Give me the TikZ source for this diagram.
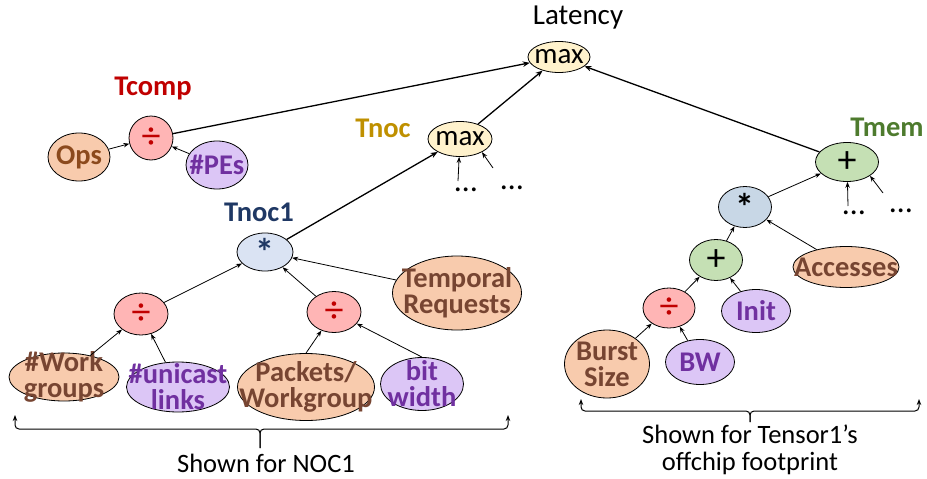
\documentclass[tikz,border=0pt]{standalone}
\usepackage{fontspec}
\setmainfont{Carlito}
\usetikzlibrary{shapes.geometric,arrows.meta}
\definecolor{orgfill}{HTML}{F8CBAD}
\definecolor{orgtxt}{HTML}{774532}
\definecolor{opstxt}{HTML}{8C4A1D}
\definecolor{purfill}{HTML}{DCC6F6}
\definecolor{purtxt}{HTML}{7030A0}
\definecolor{redfill}{HTML}{FFB5B5}
\definecolor{divred}{HTML}{C00000}
\definecolor{yelfill}{HTML}{FFF2CC}
\definecolor{grnfill}{HTML}{C5E0B4}
\definecolor{bluefill}{HTML}{DAE3F3}
\definecolor{startxt}{HTML}{1F3864}
\definecolor{gblue}{HTML}{C8D7E6}
\definecolor{tnocc}{HTML}{BF9000}
\definecolor{tmemc}{HTML}{4E7B2E}
\newcommand\myBF{\fontsize{28.5}{26}\selectfont\bfseries}
\newcommand\myRM{\fontsize{29}{25}\selectfont}
\newcommand\mySM{\fontsize{26.5}{27}\selectfont}
\newcommand\mySYM{\fontsize{38}{38}\selectfont}
\begin{document}
\begin{tikzpicture}[x=1pt,y=-1pt,
  el/.style={ellipse,draw=black,line width=0.8pt,inner sep=0pt},
  org/.style={el,fill=orgfill},
  pur/.style={el,fill=purfill},
  dvn/.style={el,fill=redfill},
  yel/.style={el,fill=yelfill},
  grn/.style={el,fill=grnfill},
  blu/.style={el,fill=bluefill},
  gbl/.style={el,fill=gblue},
  ot/.style={text=orgtxt,font=\myBF,align=center},
  pt/.style={text=purtxt,font=\myBF,align=center},
  dt/.style={text=divred,font=\mySYM},
  kt/.style={text=black,font=\myRM},
  st/.style={font=\mySYM\bfseries},
  lbl/.style={font=\myBF,inner sep=0pt},
  dots/.style={font=\fontsize{32}{32}\selectfont,inner sep=0pt},
  ar/.style={-{Stealth[length=6pt,width=4.5pt]},line width=0.8pt},
  bar/.style={-{Stealth[length=7pt,width=5.5pt]},line width=1.3pt},
  brc/.style={{Stealth[length=6pt,width=4.5pt]}-,line width=1pt,rounded corners=4pt}
]
\useasboundingbox (0,0) rectangle (927,479);

% top
\node[font=\myRM,inner sep=0pt] (lat) at (578,18) {Latency};
\node[yel,minimum width=62pt,minimum height=31pt,label={[kt]center:max}] (mx) at (559,57) {};

% Tcomp
\node[lbl,text=divred] (tcomp) at (153,88) {Tcomp};
\node[dvn,minimum width=44pt,minimum height=44pt,label={[dt]center:÷}] (cdiv) at (151,138) {};
\node[org,minimum width=62pt,minimum height=48pt,label={[ot,text=opstxt]center:Ops}] (ops) at (79,157) {};
\node[pur,minimum width=62pt,minimum height=48pt,label={[pt]center:\#PEs}] (pes) at (217,165) {};

% Tnoc
\node[lbl,text=tnocc] (tnoc) at (383,128) {Tnoc};
\node[yel,minimum width=64pt,minimum height=35pt,label={[kt]center:max}] (nmx) at (460,139) {};
\node[dots] (d1) at (466,190) {…};
\node[dots] (d2) at (512,188) {…};
\coordinate (a1) at (458,181);
\coordinate (a2) at (493,168);

% Tnoc1
\node[lbl,text=startxt] (tnoc1) at (259,212) {Tnoc1};
\node[blu,minimum width=56pt,minimum height=38pt,label={[st,text=startxt]center:\raisebox{-8pt}{*}}] (st1) at (265,252) {};
\node[dvn,minimum width=54pt,minimum height=42pt,label={[dt]center:÷}] (ldiv) at (141,314) {};
\node[dvn,minimum width=54pt,minimum height=41pt,label={[dt]center:÷}] (rdiv) at (334,312) {};
\node[org,minimum width=129pt,minimum height=74pt,label={[ot]center:{Temporal\\Requests}}] (temp) at (457,293) {};
\node[org,minimum width=110pt,minimum height=48pt,label={[ot]center:{\#Work\\groups}}] (wg) at (64,377) {};
\node[pur,minimum width=103pt,minimum height=50pt,label={[pt]center:{\#unicast\\links}}] (uni) at (178,387) {};
\node[org,minimum width=137pt,minimum height=67pt,label={[ot]center:{Packets/\\Workgroup}}] (pkt) at (306,387) {};
\node[pur,minimum width=83pt,minimum height=53pt,label={[pt]center:{bit\\width}}] (bit) at (422,384) {};

% Tmem
\node[lbl,text=tmemc] (tmem) at (887,127) {Tmem};
\node[grn,minimum width=63pt,minimum height=39pt,label={[kt,font=\mySYM]center:+}] (tp) at (847,162) {};
\node[dots] (d3) at (854,213) {…};
\node[dots] (d4) at (901,211) {…};
\coordinate (b1) at (848,206);
\coordinate (b2) at (883,193);
\node[gbl,minimum width=53pt,minimum height=41pt,label={[st]center:\raisebox{-8pt}{*}}] (mstar) at (745,207) {};
\node[grn,minimum width=53pt,minimum height=41pt,label={[kt,font=\mySYM]center:+}] (mplus) at (716,260) {};
\node[dvn,minimum width=52pt,minimum height=40pt,label={[dt]center:÷}] (mdiv) at (669,308) {};
\node[org,minimum width=106pt,minimum height=41pt,label={[ot]center:Accesses}] (acc) at (846,267) {};
\node[pur,minimum width=69pt,minimum height=43pt,label={[pt]center:Init}] (init) at (756,311) {};
\node[org,minimum width=85pt,minimum height=68pt,label={[ot]center:{Burst\\Size}}] (burst) at (607,364) {};
\node[pur,minimum width=69pt,minimum height=45pt,label={[pt]center:BW}] (bw) at (700,362) {};

% upper connectors
\draw[bar] (cdiv) -- (mx);
\draw[bar] (nmx) -- (mx);
\draw[bar] (tp) -- (mx);
\draw[bar] (st1) -- (nmx);

% lower connectors
\draw[ar] (ops) -- (cdiv);
\draw[ar] (pes) -- (cdiv);
\draw[ar] (a1) -- (nmx);
\draw[ar] (a2) -- (nmx.-31);
\draw[ar] (ldiv) -- (st1);
\draw[ar] (rdiv) -- (st1);
\draw[ar] (temp) -- (st1);
\draw[ar] (wg) -- (ldiv);
\draw[ar] (uni) -- (ldiv);
\draw[ar] (pkt.north) -- (rdiv);
\draw[ar] (bit.north) -- (rdiv);
\draw[ar] (mstar) -- (tp);
\draw[ar] (b1) -- (tp);
\draw[ar] (b2) -- (tp.-31);
\draw[ar] (mplus) -- (mstar);
\draw[ar] (acc) -- (mstar);
\draw[ar] (mdiv) -- (mplus);
\draw[ar] (init) -- (mplus);
\draw[ar] (burst) -- (mdiv);
\draw[ar] (bw) -- (mdiv);

% braces
\coordinate (bl1) at (15,415);
\coordinate (bl2) at (508,415);
\coordinate (blm) at (260,448);
\draw[brc] (bl1) |- (260,429) -- (blm);
\draw[brc] (bl2) |- (260,429) -- (blm);
\node[font=\mySM,inner sep=0pt] (noc) at (266,463) {Shown for NOC1};

\coordinate (br1) at (581,399);
\coordinate (br2) at (919,399);
\coordinate (brm) at (750,422);
\draw[brc] (br1) |- (750,411) -- (brm);
\draw[brc] (br2) |- (750,411) -- (brm);
\node[font=\mySM,inner sep=0pt,align=center] (tens) at (750,450) {Shown for Tensor1’s\\offchip footprint};
\end{tikzpicture}
\end{document}
